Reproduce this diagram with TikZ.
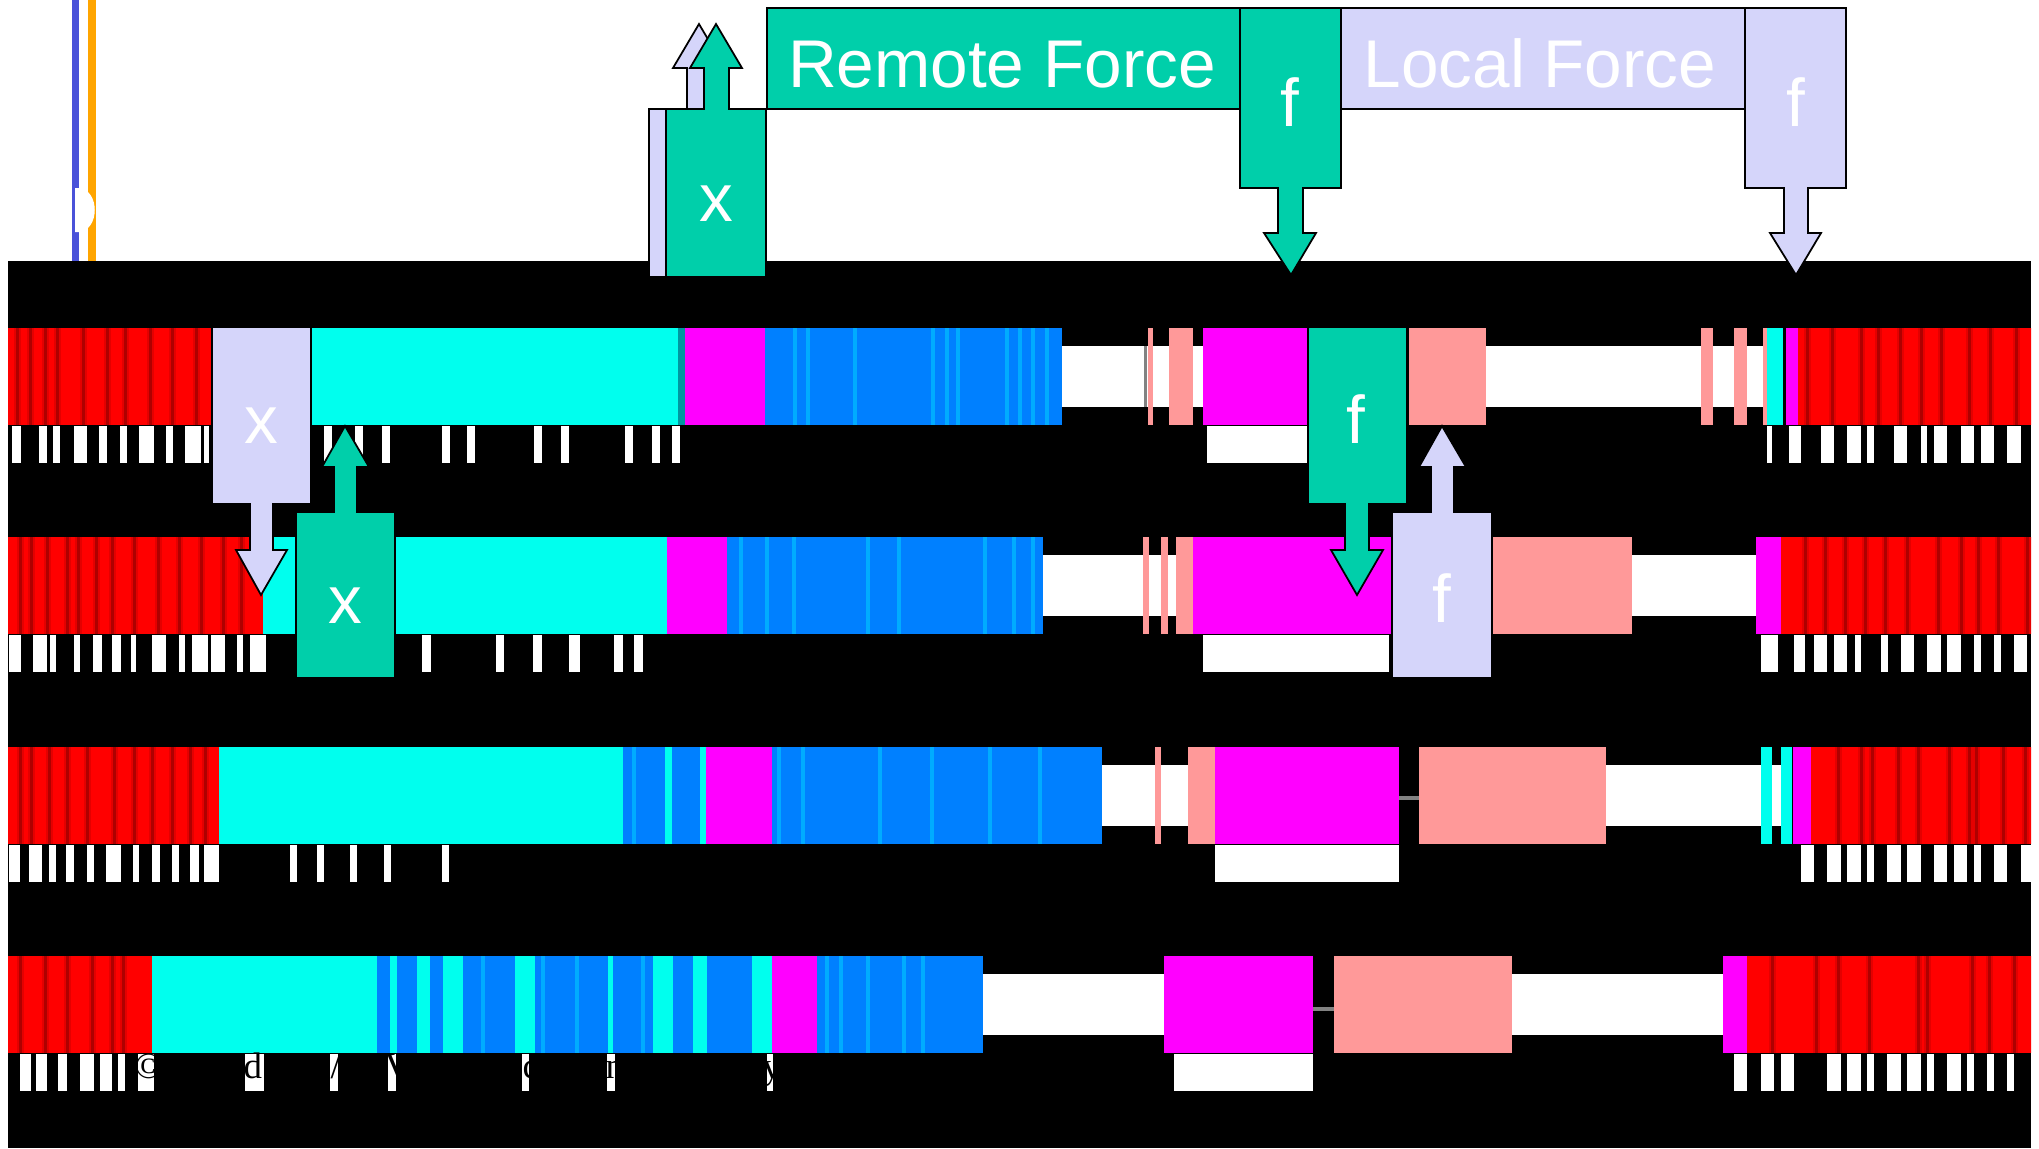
\documentclass[tikz,border=0pt]{standalone}
\usepackage{fontspec}
\setmainfont{Liberation Sans}
\newfontfamily\calloutfont{Liberation Sans}
\newfontfamily\notefont{Liberation Serif}

\definecolor{barred}{RGB}{255,0,0}
\definecolor{barredsoft}{RGB}{228,0,0}
\definecolor{barreddark}{RGB}{175,0,0}
\definecolor{barcyan}{RGB}{0,255,238}
\definecolor{barteal}{RGB}{0,150,160}
\definecolor{barblue}{RGB}{0,128,255}
\definecolor{barbluelight}{RGB}{0,172,255}
\definecolor{barmag}{RGB}{255,0,255}
\definecolor{barsalmon}{RGB}{255,153,153}
\definecolor{bargrey}{RGB}{130,130,130}
\definecolor{calloutgreen}{RGB}{0,207,170}
\definecolor{calloutlav}{RGB}{213,213,250}
\definecolor{lineblue}{RGB}{74,82,217}
\definecolor{lineorange}{RGB}{255,165,0}

\tikzset{
  seg/.style={fill=#1,draw=none},
  callout/.style={fill=#1,draw=black,line width=0.5pt,line join=miter},
  lbl/.style={text=white,font=\calloutfont\fontsize{19.2}{21}\selectfont,inner sep=0pt,anchor=base},
  note/.style={text=black,font=\notefont\fontsize{10.5}{12}\selectfont,inner sep=0pt,anchor=base west},
}

% full-height bar segment and thin (gap) segment of one timeline row
\newcommand{\fullseg}[3]{\path[seg=#1] (#2,0) rectangle (#3,97);}
\newcommand{\thinseg}[3]{\path[seg=#1] (#2,18) rectangle (#3,79);}
% soft dark band inside a red block
\newcommand{\redbands}[1]{\foreach \s in {#1} {\fill[barredsoft] (\s-3.5,0) rectangle (\s+3.5,97);\fill[barreddark] (\s-1.5,0) rectangle (\s+1.5,97);}}
% white tick marks below a row
\newcommand{\ticks}[1]{\foreach \a/\b in {#1} \fill[white] (\a,98) rectangle (\b,135);}

\begin{document}
\begin{tikzpicture}[x=0.01cm,y=-0.01cm]
\useasboundingbox (0,0) rectangle (2039,1148);
\fill[white] (0,0) rectangle (2039,1148);

% timeline lines at the left edge
\fill[lineblue] (72,0) rectangle (79,261);
\fill[lineorange] (88,0) rectangle (96,261);
\fill[white] (75,188) -- (79,188) .. controls (100,190) and (100,230) .. (79,232) -- (75,232) -- cycle;

% black timeline panel
\fill[black] (8,261) rectangle (2031,1148);

\begin{scope}
\clip (8,261) rectangle (2031,1148);

% ---------------- row 1 ----------------
\begin{scope}[yshift=-3.28cm]
  \fullseg{barred}{8}{211}
  \redbands{17,30,45,57,83,107,125,150,172,196}
  \fullseg{barcyan}{211}{678}
  \fullseg{barteal}{678}{685}
  \fullseg{barmag}{685}{765}
  \fullseg{barblue}{765}{1062}
  \foreach \s in {795,808,855,933,947,958,1007,1020,1033,1047} \fill[barbluelight] (\s-2,0) rectangle (\s+2,97);
  \thinseg{white}{1062}{1205}
  \fill[bargrey] (1144,18) rectangle (1147,79);
  \fullseg{barsalmon}{1148}{1153}
  \fullseg{barsalmon}{1169}{1193}
  \fullseg{barmag}{1203}{1308}
  \fill[white] (1207,98) rectangle (1308,135);
  \fullseg{barsalmon}{1409}{1486}
  \thinseg{white}{1486}{1772}
  \ticks{12/21,39/47,53/60,74/87,99/107,120/127,139/154,166/173,185/201,204/209,
         324/332,355/363,382/390,442/450,467/475,534/542,561/569,625/633,652/660,672/680}
  \begin{scope}[xshift=-0.05cm]
    \fullseg{barsalmon}{1706}{1718}
    \fullseg{barsalmon}{1739}{1752}
    \fullseg{barsalmon}{1768}{1772}
    \fullseg{barcyan}{1772}{1788}
    \fullseg{barmag}{1791}{1803}
    \fullseg{barred}{1803}{2045}
    \redbands{1812,1837,1866,1883,1905,1926,1946,1974,1995,2021}
    \ticks{1772/1777,1794/1806,1826/1839,1852/1866,1872/1879,1899/1912,1926/1932,1939/1952,1966/1979,1986/1999,2012/2026}
  \end{scope}
\end{scope}

% ---------------- row 2 ----------------
\begin{scope}[yshift=-5.37cm]
  \fullseg{barred}{8}{263}
  \redbands{20,31,47,67,78,96,112,134,158,179,201,223,241}
  \fullseg{barcyan}{263}{667}
  \fullseg{barmag}{667}{727}
  \fullseg{barblue}{727}{1043}
  \foreach \s in {741,767,794,868,899,985,1014,1033} \fill[barbluelight] (\s-2,0) rectangle (\s+2,97);
  \thinseg{white}{1043}{1193}
  \fullseg{barsalmon}{1143}{1149}
  \fullseg{barsalmon}{1161}{1168}
  \fullseg{barsalmon}{1176}{1193}
  \fullseg{barmag}{1193}{1392}
  \fill[white] (1203,98) rectangle (1389,135);
  \fullseg{barsalmon}{1492}{1632}
  \thinseg{white}{1632}{1761}
  \ticks{9/21,33/47,50/56,74/80,93/102,112/121,131/136,152/166,179/185,192/208,211/225,237/243,250/266,
         422/431,496/504,533/542,569/580,614/623,634/643}
  \begin{scope}[xshift=-0.05cm]
    \fullseg{barmag}{1761}{1786}
    \fullseg{barred}{1786}{2045}
    \redbands{1810,1830,1850,1870,1890,1912,1943,1966,1983,2003,2032}
    \ticks{1766/1783,1799/1810,1819/1832,1839/1852,1860/1866,1886/1893,1906/1919,1932/1946,1952/1966,1979/1986,1999/2006,2019/2032}
  \end{scope}
\end{scope}

% ---------------- row 3 ----------------
\begin{scope}[yshift=-7.47cm]
  \fullseg{barred}{8}{219}
  \redbands{20,31,49,67,87,114,134,152,172,190,205}
  \fullseg{barcyan}{219}{623}
  \fullseg{barblue}{623}{706}
  \fullseg{barbluelight}{632}{636}
  \fullseg{barcyan}{665}{672}
  \fullseg{barcyan}{700}{706}
  \fullseg{barmag}{706}{772}
  \fullseg{barblue}{772}{1102}
  \foreach \s in {779,803,880,932,990,1040} \fill[barbluelight] (\s-2,0) rectangle (\s+2,97);
  \thinseg{white}{1102}{1188}
  \fullseg{barsalmon}{1155}{1161}
  \fullseg{barsalmon}{1188}{1215}
  \fullseg{barmag}{1215}{1399}
  \fill[white] (1215,98) rectangle (1399,135);
  \fill[bargrey] (1399,49) rectangle (1419,53);
  \fullseg{barsalmon}{1419}{1606}
  \thinseg{white}{1606}{1766}
  \ticks{9/20,29/42,49/56,66/74,87/94,106/121,133/139,152/160,172/179,190/199,204/219,
         290/297,317/324,350/357,384/391,442/449}
  \begin{scope}[xshift=-0.05cm]
    \thinseg{white}{1766}{1790}
    \fullseg{barcyan}{1766}{1777}
    \fullseg{barcyan}{1786}{1797}
    \fullseg{barmag}{1798}{1816}
    \fullseg{barred}{1816}{2045}
    \redbands{1843,1866,1877,1903,1923,1954,1974,1981,2008,2030}
    \ticks{1806/1819,1832/1846,1852/1866,1872/1879,1892/1906,1912/1926,1939/1952,1959/1972,1979/1986,1999/2012,2026/2036}
  \end{scope}
\end{scope}

% ---------------- row 4 ----------------
\begin{scope}[yshift=-9.55cm]
  \fullseg{barred}{8}{152}
  \redbands{20,45,67,92,112,123}
  \fullseg{barcyan}{152}{377}
  \fullseg{barblue}{377}{772}
  \foreach \s in {483,543,577,643} \fill[barbluelight] (\s-2,0) rectangle (\s+2,97);
  \foreach \a/\b in {390/397,417/430,443/463,515/535,608/613,653/673,693/707,752/772}
    \fill[barcyan] (\a,0) rectangle (\b,97);
  \fullseg{barmag}{772}{817}
  \fullseg{barblue}{817}{983}
  \foreach \s in {827,841,868,904,923} \fill[barbluelight] (\s-2,0) rectangle (\s+2,97);
  \thinseg{white}{983}{1164}
  \fullseg{barmag}{1164}{1313}
  \fill[white] (1174,98) rectangle (1313,135);
  \fill[bargrey] (1313,51) rectangle (1334,55);
  \fullseg{barsalmon}{1334}{1512}
  \thinseg{white}{1512}{1728}
  \ticks{20/31,36/47,58/67,80/94,100/112,118/125,138/154,245/264,330/338,388/396,522/529,607/615,767/773}
  \begin{scope}[xshift=-0.05cm]
    \fullseg{barmag}{1728}{1752}
    \fullseg{barred}{1752}{2045}
    \redbands{1777,1821,1843,1874,1923,1932,1977,1994,2019}
    \ticks{1739/1752,1766/1779,1786/1799,1832/1846,1852/1866,1872/1879,1892/1906,1912/1926,1932/1939,1952/1966,1972/1979,1992/1999,2012/2019}
  \end{scope}
\end{scope}
\end{scope}

% faint credit line over the last tick row
\node[note] (n1) at (134,1078) {\textcopyright};
\node[note] (n2) at (243,1078) {d};
\node[note] (n3) at (330,1078) {/};
\node[note] (n4) at (384,1078) {V};
\node[note] (n5) at (522,1078) {c};
\node[note] (n6) at (605,1078) {n};
\node[note] (n7) at (762,1078) {y};

% ---------------- top callouts ----------------
\begin{scope}[xshift=-0.17cm]
  \draw[callout=calloutlav] (666,277) -- (666,109) -- (704,109) -- (704,68) -- (690,68) -- (716,24) -- (742,68) -- (729,68) -- (729,109) -- (766,109) -- (766,277) -- cycle;
\end{scope}
\draw[callout=calloutgreen] (666,277) -- (666,109) -- (704,109) -- (704,68) -- (690,68) -- (716,24) -- (742,68) -- (729,68) -- (729,109) -- (766,109) -- (766,277) -- cycle;
\node[lbl] (xtop) at (716,221) {x};

\draw[callout=calloutgreen] (767,8) rectangle (1240,109);
\node[lbl] (remote) at (1002,87) {Remote Force};

\draw[callout=calloutgreen] (1240,8) -- (1341,8) -- (1341,188) -- (1303,188) -- (1303,233) -- (1316,233) -- (1291,275) -- (1264,233) -- (1278,233) -- (1278,188) -- (1240,188) -- cycle;
\node[lbl] (ftopgreen) at (1290,126) {f};

\draw[callout=calloutlav] (1341,8) rectangle (1745,109);
\node[lbl] (local) at (1540,87) {Local Force};

\draw[callout=calloutlav] (1745,8) -- (1846,8) -- (1846,188) -- (1808,188) -- (1808,233) -- (1821,233) -- (1796,275) -- (1770,233) -- (1784,233) -- (1784,188) -- (1745,188) -- cycle;
\node[lbl] (ftoplav) at (1796,126) {f};

% ---------------- callouts on the timeline ----------------
\draw[callout=calloutlav] (212,504) -- (212,327) -- (311,327) -- (311,504) -- (273,504) -- (273,550) -- (287,550) -- (261,595) -- (236,550) -- (250,550) -- (250,504) -- cycle;
\node[lbl] (xrowlav) at (261,443) {x};

\draw[callout=calloutgreen] (296,678) -- (296,512) -- (334,512) -- (334,467) -- (322,467) -- (345,426) -- (369,467) -- (357,467) -- (357,512) -- (395,512) -- (395,678) -- cycle;
\node[lbl] (xrowgreen) at (345,623) {x};

\draw[callout=calloutgreen] (1308,327) -- (1407,327) -- (1407,504) -- (1369,504) -- (1369,550) -- (1383,550) -- (1357,595) -- (1331,550) -- (1345,550) -- (1345,504) -- (1308,504) -- cycle;
\node[lbl] (frowgreen) at (1356,443) {f};

\draw[callout=calloutlav] (1392,678) -- (1392,512) -- (1431,512) -- (1431,467) -- (1419,467) -- (1442,426) -- (1466,467) -- (1454,467) -- (1454,512) -- (1492,512) -- (1492,678) -- cycle;
\node[lbl] (frowlav) at (1442,622) {f};
\end{tikzpicture}
\end{document}
